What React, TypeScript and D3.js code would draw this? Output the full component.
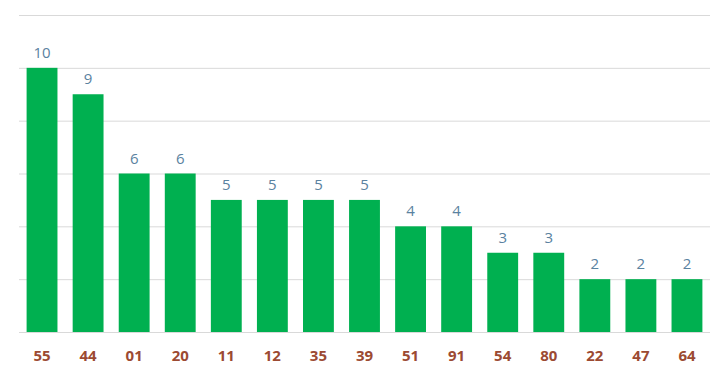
import React from 'react';
import * as d3 from 'd3';

const categories = ['55', '44', '01', '20', '11', '12', '35', '39', '51', '91', '54', '80', '22', '47', '64'];
const values = [10, 9, 6, 6, 5, 5, 5, 5, 4, 4, 3, 3, 2, 2, 2];
const yTicks = [0, 2, 4, 6, 8, 10, 12];

const App = () => {
  const width = 721;
  const height = 373;
  const margin = { top: 15, right: 11, bottom: 41, left: 19 };

  const x = d3.scaleBand()
    .domain(categories)
    .range([margin.left, width - margin.right])
    .paddingInner(0.33)
    .paddingOuter(0.165);

  const y = d3.scaleLinear()
    .domain([0, 12])
    .range([height - margin.bottom, margin.top]);

  return (
    <svg width={width} height={height} style={{ position: 'absolute', left: 0, top: 0 }}>
      {/* grid lines */}
      {yTicks.map(t => (
        <line key={t} x1={margin.left} x2={width - margin.right} y1={y(t) + 0.5} y2={y(t) + 0.5}
          stroke="#d9d9d9" strokeWidth={1} />
      ))}

      {/* bars */}
      {categories.map((c, i) => (
        <rect key={c} x={x(c)} y={y(values[i])} width={x.bandwidth()} height={y(0) - y(values[i])}
          fill="#00b050" />
      ))}

      {/* value labels */}
      {categories.map((c, i) => (
        <text key={'v' + c} x={(x(c) as number) + x.bandwidth() / 2} y={y(values[i]) - 10}
          textAnchor="middle" fontFamily="'Open Sans', sans-serif" fontSize={15} fill="#5a82a0">
          {values[i]}
        </text>
      ))}

      {/* category labels */}
      {categories.map(c => (
        <text key={'c' + c} x={(x(c) as number) + x.bandwidth() / 2} y={361}
          textAnchor="middle" fontFamily="'Open Sans', sans-serif" fontSize={15} fontWeight="bold"
          fill="#9c4a32">
          {c}
        </text>
      ))}
    </svg>
  );
};

export default App;
